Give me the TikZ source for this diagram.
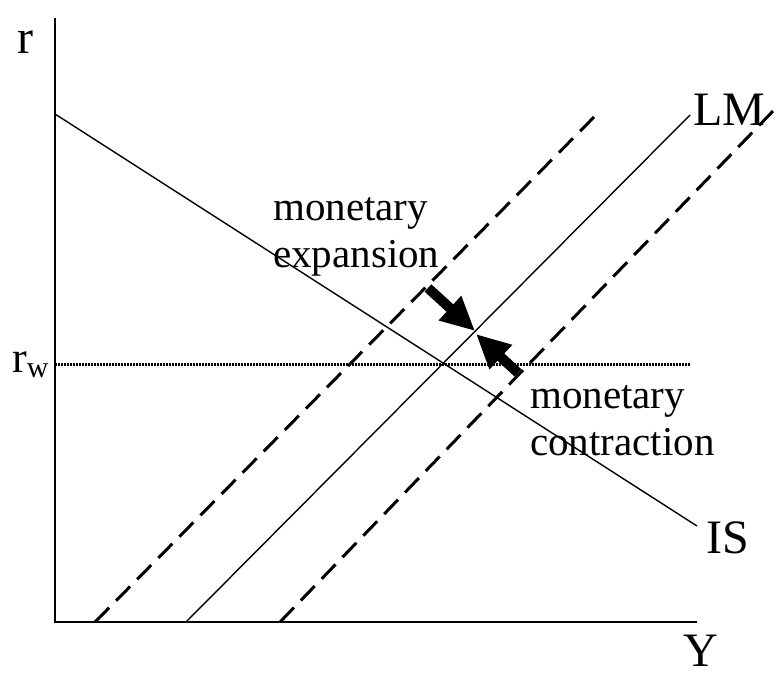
\documentclass[tikz,border=0pt]{standalone}
\usepackage{fontspec}
\setmainfont{Liberation Serif}
\usetikzlibrary{positioning, arrows.meta}

\begin{document}
\begin{tikzpicture}[
    x=1pt, y=-1pt,
    axis/.style={line width=2.6pt},
    curve/.style={line width=1.4pt},
    shifted/.style={line width=3pt, dash pattern=on 20pt off 10pt},
    rate/.style={line width=3pt, dash pattern=on 1.5pt off 1.5pt},
    big/.style={font=\fontsize{48}{55}\selectfont, inner sep=0pt},
    note/.style={font=\fontsize{41}{47}\selectfont, align=left, inner sep=0pt},
    push/.style={line width=10pt, -{Triangle[length=34pt, width=31pt]}}
]
\useasboundingbox (0,0) rectangle (776,675);

% Axes
\coordinate (O) at (55,622);
\coordinate (rtop) at (55,18);
\coordinate (yend) at (697,622);
\draw[axis] (rtop) -- (O) -- (yend);
\node[big, anchor=base west] (r) at (17,53) {r};
\node[big, anchor=base west] (Y) at (683,666) {Y};

% World interest rate
\coordinate (rw0) at (55,364);
\coordinate (rw1) at (690,364);
\draw[rate] (rw0) -- (rw1);
\node[inner sep=0pt, anchor=base west, font=\fontsize{44}{50}\selectfont] (rw) at (12,372)
    {r\raisebox{-5pt}{\fontsize{30}{30}\selectfont w}};

% IS curve
\coordinate (is0) at (55,114);
\coordinate (is1) at (697,526);
\draw[curve] (is0) -- (is1);
\node[big, anchor=base west] (IS) at (706,553) {IS};

% LM curve and its shifts
\coordinate (lm0) at (186,622);
\coordinate (lm1) at (690,115);
\draw[curve] (lm0) -- (lm1);
\node[big, anchor=base west] (LM) at (693,125) {LM};

\coordinate (lmExp0) at (95,622);
\coordinate (lmExp1) at (599,112);
\draw[shifted] (lmExp0) -- (lmExp1);

\coordinate (lmCon0) at (280,622);
\coordinate (lmCon1) at (774,110);
\draw[shifted] (lmCon0) -- (lmCon1);

% Shift labels
\node[note, anchor=base west] (expansion) at (273,267) {monetary\\expansion};
\node[note, anchor=base west] (contraction) at (530,455) {monetary\\contraction};

% Arrows
\coordinate (expTail) at (428,288);
\coordinate (expTip) at (475,331);
\coordinate (conTail) at (518,373);
\coordinate (conTip) at (476,334);
\draw[push] (expTail) -- (expTip);
\draw[push] (conTail) -- (conTip);

\end{tikzpicture}
\end{document}
